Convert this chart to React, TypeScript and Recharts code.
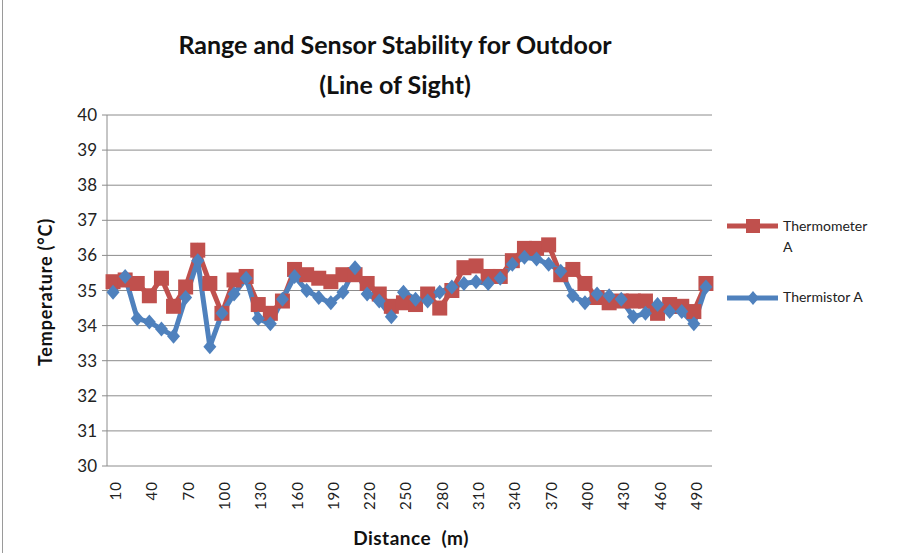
import { LineChart, Line, XAxis, YAxis, CartesianGrid } from 'recharts';

const distances = [
    10, 20, 30, 40, 50, 60, 70, 80, 90, 100,
    110, 120, 130, 140, 150, 160, 170, 180, 190, 200,
    210, 220, 230, 240, 250, 260, 270, 280, 290, 300,
    310, 320, 330, 340, 350, 360, 370, 380, 390, 400,
    410, 420, 430, 440, 450, 460, 470, 480, 490, 500,
];

const thermometerA = [
    35.25, 35.3, 35.2, 34.85, 35.35, 34.55, 35.1, 36.15, 35.2, 34.35,
    35.3, 35.4, 34.6, 34.35, 34.7, 35.6, 35.45, 35.35, 35.25, 35.45,
    35.45, 35.2, 34.9, 34.55, 34.65, 34.6, 34.9, 34.5, 35.0, 35.65,
    35.7, 35.4, 35.4, 35.85, 36.2, 36.2, 36.3, 35.45, 35.6, 35.2,
    34.8, 34.65, 34.7, 34.7, 34.7, 34.35, 34.6, 34.55, 34.4, 35.2,
];

const thermistorA = [
    34.95, 35.4, 34.2, 34.1, 33.9, 33.7, 34.8, 35.85, 33.4, 34.35,
    34.9, 35.35, 34.2, 34.05, 34.75, 35.4, 35.0, 34.8, 34.65, 34.95,
    35.65, 34.9, 34.7, 34.25, 34.95, 34.75, 34.7, 34.95, 35.1, 35.2,
    35.25, 35.2, 35.35, 35.75, 35.95, 35.9, 35.75, 35.55, 34.85, 34.65,
    34.9, 34.85, 34.75, 34.25, 34.35, 34.6, 34.4, 34.4, 34.05, 35.1,
];

const yTicks = [30, 31, 32, 33, 34, 35, 36, 37, 38, 39, 40];
const xLabelTicks = [10, 40, 70, 100, 130, 160, 190, 220, 250, 280, 310, 340, 370, 400, 430, 460, 490];
const xMarkTicks = [
    5, 15, 25, 35, 45, 55, 65, 75, 85, 95, 105, 115, 125, 135, 145, 155, 165, 175, 185, 195,
    205, 215, 225, 235, 245, 255, 265, 275, 285, 295, 305, 315, 325, 335, 345, 355, 365, 375, 385, 395,
    405, 415, 425, 435, 445, 455, 465, 475, 485, 495, 505,
];

const RED = '#C0504D';
const BLUE = '#4F81BD';
const FONT = 'Lato, "Open Sans", sans-serif';

const data = distances.map((d, i) => ({ d, thermometer: thermometerA[i], thermistor: thermistorA[i] }));

const SquareDot = (props: any) => {
    const { cx, cy } = props;
    if (cx == null || cy == null) return null;
    return <rect x={cx - 7.5} y={cy - 7.5} width={15} height={15} fill={RED} />;
};

const DiamondDot = (props: any) => {
    const { cx, cy } = props;
    if (cx == null || cy == null) return null;
    return <polygon points={`${cx},${cy - 7.5} ${cx + 6.5},${cy} ${cx},${cy + 7.5} ${cx - 6.5},${cy}`} fill={BLUE} />;
};

const XLabelTick = (props: any) => {
    const { x, y, payload } = props;
    return (
        <text
            transform={`translate(${x + 8},${y + 7}) rotate(-90)`}
            textAnchor="end"
            fontSize={15}
            letterSpacing={1}
            fill="#222"
            fontFamily={FONT}
        >
            {payload.value}
        </text>
    );
};

// legend drawn by hand so it does not eat into the plot width
const LegendBox = () => (
    <div style={{ position: 'absolute', left: 725, top: 212, width: 170, height: 110, fontSize: 14, color: '#222' }}>
        <svg width={60} height={110} style={{ position: 'absolute', left: 0, top: 0 }}>
            <line x1={2} y1={14} x2={53} y2={14} stroke={RED} strokeWidth={5} />
            <rect x={21} y={7} width={14} height={14} fill={RED} />
            <line x1={2} y1={86} x2={53} y2={86} stroke={BLUE} strokeWidth={5} />
            <polygon points="28,79 34,86 28,93 22,86" fill={BLUE} />
        </svg>
        <div style={{ position: 'absolute', left: 58, top: 3, lineHeight: '21px' }}>
            Thermometer
            <br />A
        </div>
        <div style={{ position: 'absolute', left: 58, top: 76 }}>Thermistor A</div>
    </div>
);

export default function App() {
    return (
        <div style={{ position: 'absolute', left: 0, top: 0, width: 898, height: 553, background: '#fff', fontFamily: FONT }}>
            <div style={{ position: 'absolute', left: 2, top: 0, width: 1, height: 553, background: '#9a9a9a' }} />
            <div
                style={{
                    position: 'absolute',
                    left: 0,
                    top: 24,
                    width: 790,
                    textAlign: 'center',
                    fontWeight: 700,
                    fontSize: 25,
                    lineHeight: '40px',
                    color: '#111',
                }}
            >
                Range and Sensor Stability for Outdoor
                <br />
                (Line of Sight)
            </div>
            <div
                style={{
                    position: 'absolute',
                    left: 45,
                    top: 292,
                    transform: 'translate(-50%, -50%) rotate(-90deg)',
                    fontWeight: 700,
                    fontSize: 18,
                    letterSpacing: 0.8,
                    whiteSpace: 'nowrap',
                    color: '#111',
                }}
            >
                Temperature (°C)
            </div>
            <div
                style={{
                    position: 'absolute',
                    left: 411,
                    top: 537,
                    transform: 'translate(-50%, -50%)',
                    fontWeight: 700,
                    fontSize: 19,
                    letterSpacing: 0.5,
                    whiteSpace: 'pre',
                    color: '#111',
                }}
            >
                Distance  (m)
            </div>
            <LegendBox />
            <LineChart width={898} height={553} data={data} margin={{ top: 115, right: 186, left: 47, bottom: 42 }}>
                <CartesianGrid horizontal vertical={false} stroke="#8c8c8c" />
                <XAxis
                    xAxisId="marks"
                    dataKey="d"
                    type="number"
                    domain={[5, 505]}
                    ticks={xMarkTicks}
                    tick={false}
                    height={0}
                    tickSize={5}
                    stroke="#8c8c8c"
                />
                <XAxis
                    dataKey="d"
                    type="number"
                    domain={[5, 505]}
                    ticks={xLabelTicks}
                    interval={0}
                    axisLine={false}
                    tickLine={false}
                    height={45}
                    tick={<XLabelTick />}
                />
                <YAxis
                    domain={[30, 40]}
                    ticks={yTicks}
                    interval={0}
                    width={60}
                    tickSize={5}
                    tickMargin={5}
                    stroke="#8c8c8c"
                    tick={{ fill: '#222', fontSize: 17, fontFamily: FONT }}
                />
                <Line
                    dataKey="thermometer"
                    name="Thermometer A"
                    stroke={RED}
                    strokeWidth={5}
                    dot={<SquareDot />}
                    activeDot={false}
                    isAnimationActive={false}
                />
                <Line
                    dataKey="thermistor"
                    name="Thermistor A"
                    stroke={BLUE}
                    strokeWidth={5}
                    dot={<DiamondDot />}
                    activeDot={false}
                    isAnimationActive={false}
                />
            </LineChart>
        </div>
    );
}
